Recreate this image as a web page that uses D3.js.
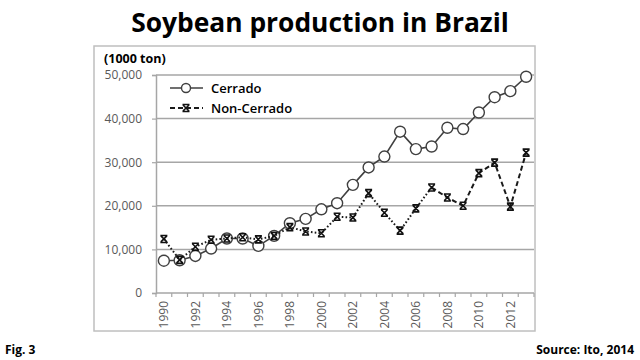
<!DOCTYPE html>
<html><head><meta charset="utf-8">
<script src="https://cdn.jsdelivr.net/npm/d3@7"></script>
<style>body{margin:0;background:#fff}svg{display:block}</style>
</head><body>
<svg id="c" width="640" height="360"></svg>
<script>
const years = d3.range(1990, 2014);
const cerrado = [7400,7500,8500,10200,12500,12500,10800,13100,16000,17000,19200,20600,24800,28800,31300,37000,33000,33600,37900,37600,41400,44900,46300,49600];
const nonCerrado = [12400,7600,10600,12200,12500,12800,12300,13100,15100,14100,13700,17500,17300,22900,18400,14300,19400,24200,21900,20000,27500,29900,19800,32200];
const yTicks = [0,10000,20000,30000,40000,50000];
const xLabels = years.filter(y => y % 2 === 0);
const seriesNames = ["Cerrado","Non-Cerrado"];

const svg = d3.select("#c");
const font = "'Open Sans', sans-serif";

svg.append("rect").attr("x",94).attr("y",46).attr("width",441).attr("height",285)
  .attr("fill","#fff").attr("stroke","#bfbfbf").attr("stroke-width",1.5);

const x = d3.scaleBand().domain(years).range([156,534]);
const y = d3.scaleLinear().domain([0,50000]).range([293,75]);

// gridlines
svg.append("g").selectAll("line").data(yTicks.filter(d=>d>0)).join("line")
  .attr("x1",156).attr("x2",534).attr("y1",d=>y(d)).attr("y2",d=>y(d))
  .attr("stroke","#a6a6a6").attr("stroke-width",1.5);

// y axis
const ya = svg.append("g").attr("transform","translate(156,0)")
  .call(d3.axisLeft(y).tickValues(yTicks).tickFormat(d3.format(",")).tickSize(4).tickPadding(10));
ya.select(".domain").attr("stroke","#a6a6a6").attr("stroke-width",1.5);
ya.selectAll(".tick line").attr("stroke","#a6a6a6").attr("stroke-width",1.2);
ya.selectAll("text").attr("fill","#595959").style("font-family",font).style("font-size","12px");

// x axis
const xa = svg.append("g").attr("transform","translate(0,293)");
xa.append("line").attr("x1",156).attr("x2",534).attr("stroke","#a6a6a6").attr("stroke-width",1.5);
xa.selectAll("line.t").data(years.concat([2014])).join("line").attr("class","t")
  .attr("x1",d=> d===2014 ? 534 : x(d)).attr("x2",d=> d===2014 ? 534 : x(d))
  .attr("y1",0).attr("y2",4).attr("stroke","#a6a6a6").attr("stroke-width",1.2);
xa.selectAll("text").data(xLabels).join("text")
  .attr("transform",d=>`translate(${x(d)+x.bandwidth()/2},8) rotate(-90)`)
  .attr("text-anchor","end").attr("dy","0.35em")
  .attr("fill","#595959").style("font-family",font).style("font-size","12px").text(d=>d);

const cx = d => x(d)+x.bandwidth()/2;
const line = d3.line().x(d=>cx(d.yr)).y(d=>y(d.v));
const starPath = "M-3.5,-3.5H3.5M-3.5,3.5H3.5M-3,-3L3,3M3,-3L-3,3";

// Cerrado
const cData = years.map((yr,i)=>({yr,v:cerrado[i]}));
svg.append("path").datum(cData).attr("d",line).attr("fill","none")
  .attr("stroke","#404040").attr("stroke-width",1.6);
svg.append("g").selectAll("circle").data(cData).join("circle")
  .attr("cx",d=>cx(d.yr)).attr("cy",d=>y(d.v)).attr("r",5.5)
  .attr("fill","#fff").attr("stroke","#404040").attr("stroke-width",1.4);

// Non-Cerrado (drawn on top)
const ncData = years.map((yr,i)=>({yr,v:nonCerrado[i]}));
svg.append("path").datum(ncData.slice(0,18)).attr("d",line).attr("fill","none")
  .attr("stroke","#1a1a1a").attr("stroke-width",2).attr("stroke-dasharray","1.6,2.2");
svg.append("path").datum(ncData.slice(17)).attr("d",line).attr("fill","none")
  .attr("stroke","#1a1a1a").attr("stroke-width",2).attr("stroke-dasharray","5,3");
svg.append("g").selectAll("path").data(ncData).join("path")
  .attr("transform",d=>`translate(${cx(d.yr)},${y(d.v)})`)
  .attr("d",starPath).attr("stroke","#111").attr("stroke-width",1.6).attr("fill","none");

// legend
const lg = svg.append("g");
lg.append("line").attr("x1",170).attr("x2",203).attr("y1",88).attr("y2",88).attr("stroke","#404040").attr("stroke-width",1.6);
lg.append("circle").attr("cx",186).attr("cy",88).attr("r",4.5).attr("fill","#fff").attr("stroke","#404040").attr("stroke-width",1.4);
lg.append("line").attr("x1",170).attr("x2",203).attr("y1",108).attr("y2",108).attr("stroke","#1a1a1a").attr("stroke-width",2).attr("stroke-dasharray","5,3");
lg.append("path").attr("transform","translate(186,108)").attr("d",starPath).attr("stroke","#111").attr("stroke-width",1.6);
lg.selectAll("text").data(seriesNames).join("text")
  .attr("x",211).attr("y",(d,i)=>93+i*20).attr("fill","#000")
  .style("font-family",font).style("font-size","13px").style("font-weight","600").text(d=>d);

// unit label
svg.append("text").attr("x",104).attr("y",63).style("font-family",font).style("font-size","12.5px")
  .style("font-weight","bold").text("(1000 ton)");

// title
const t = svg.append("text").attr("x",320).attr("y",32).attr("text-anchor","middle")
  .style("font-family",font).style("font-size","28px").style("font-weight","bold").text("Soybean production in Brazil");
const w = t.node().getComputedTextLength();
t.style("font-size",(28*378/w)+"px");

svg.append("text").attr("x",5).attr("y",354).style("font-family",font).style("font-size","12px").style("font-weight","bold").text("Fig. 3");
svg.append("text").attr("x",634).attr("y",354).attr("text-anchor","end").style("font-family",font).style("font-size","12px").style("font-weight","bold").text("Source: Ito, 2014");
</script>
</body></html>
